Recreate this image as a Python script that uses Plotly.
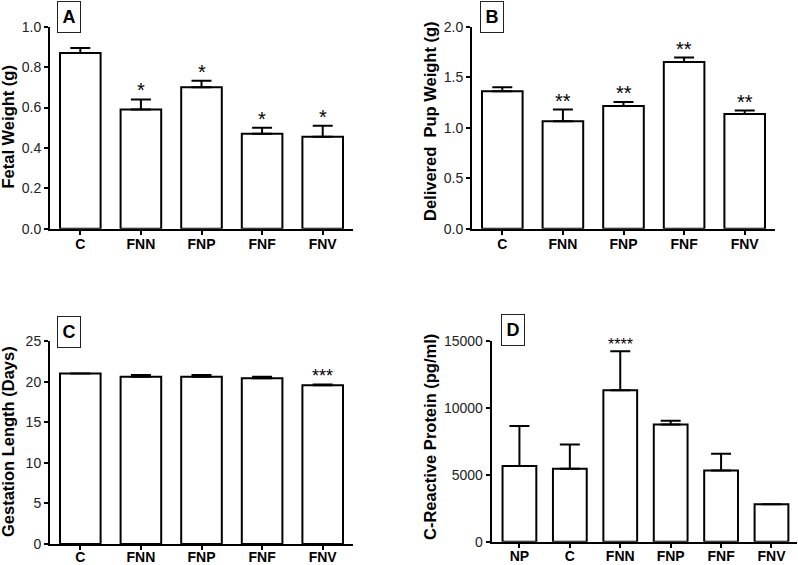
import plotly.graph_objects as go

# ---- data ----
groups_abc = ["C", "FNN", "FNP", "FNF", "FNV"]
fetal_weight = [0.87, 0.59, 0.70, 0.47, 0.455]
fetal_weight_err = [0.025, 0.05, 0.033, 0.03, 0.055]
fetal_stars = ["", "*", "*", "*", "*"]

pup_weight = [1.36, 1.065, 1.215, 1.65, 1.135]
pup_weight_err = [0.04, 0.115, 0.04, 0.045, 0.035]
pup_stars = ["", "**", "**", "**", "**"]

gestation_days = [21.0, 20.6, 20.6, 20.4, 19.55]
gestation_err = [0.0, 0.22, 0.22, 0.2, 0.1]
gestation_stars = ["", "", "", "", "***"]

groups_d = ["NP", "C", "FNN", "FNP", "FNF", "FNV"]
crp_values = [5650, 5450, 11300, 8750, 5320, 2790]
crp_err = [2980, 1810, 2910, 270, 1240, 0]
crp_stars = ["", "", "****", "", "", ""]

W, H = 798, 565
FONT = "Liberation Sans, Arial, sans-serif"


def fx(p):
    return p / W


def fy(p):
    return 1 - p / H


panels = [
    dict(cats=groups_abc, vals=fetal_weight, errs=fetal_weight_err, stars=fetal_stars,
         title="Fetal Weight (g)", label="A", xpx=(50, 353), ypx=(228.7, 26.7),
         yrange=[0, 1.0], dtick=0.2, fmt=".1f", xrange=[-0.5, 4.5],
         title_pos=(7.5, 127), label_pos=(69, 17), star_size=20, standoff=-3),
    dict(cats=groups_abc, vals=pup_weight, errs=pup_weight_err, stars=pup_stars,
         title="Delivered  Pup Weight (g)", label="B", xpx=(472, 775), ypx=(228.7, 26.7),
         yrange=[0, 2.0], dtick=0.5, fmt=".1f", xrange=[-0.5, 4.5],
         title_pos=(430, 121), label_pos=(491.5, 17), star_size=20, standoff=-3),
    dict(cats=groups_abc, vals=gestation_days, errs=gestation_err, stars=gestation_stars,
         title="Gestation Length (Days)", label="C", xpx=(50, 353), ypx=(544, 341),
         yrange=[0, 25], dtick=5, fmt="d", xrange=[-0.5, 4.5],
         title_pos=(8, 442), label_pos=(69, 332), star_size=18, standoff=-5),
    dict(cats=groups_d, vals=crp_values, errs=crp_err, stars=crp_stars,
         title="C-Reactive Protein (pg/ml)", label="D", xpx=(491.7, 796.7), ypx=(541.7, 340.7),
         yrange=[0, 15000], dtick=5000, fmt="d", xrange=[-0.55, 5.5],
         title_pos=(430, 437), label_pos=(513, 330), star_size=16, standoff=-4),
]

fig = go.Figure()
annotations = []
layout = {}

for i, p in enumerate(panels, start=1):
    sfx = "" if i == 1 else str(i)
    xa, ya = "x" + sfx, "y" + sfx
    fig.add_trace(go.Bar(
        x=p["cats"], y=p["vals"], xaxis=xa, yaxis=ya, width=0.67,
        marker=dict(color="white", line=dict(color="black", width=2)),
        error_y=dict(type="data", symmetric=False, array=p["errs"],
                     arrayminus=[0] * len(p["errs"]), color="black", thickness=2, width=10),
        showlegend=False, hoverinfo="x+y",
    ))
    layout["xaxis" + sfx] = dict(
        domain=[fx(p["xpx"][0]), fx(p["xpx"][1])], anchor=ya, type="category",
        range=p["xrange"], showline=True, linecolor="black", linewidth=2,
        ticks="outside", ticklen=4, tickwidth=2, tickcolor="black",
        ticklabelstandoff=p["standoff"],
        tickfont=dict(family=FONT, size=14, color="black", weight="bold"),
        showgrid=False, zeroline=False, fixedrange=True, automargin=False,
    )
    layout["yaxis" + sfx] = dict(
        domain=[fy(p["ypx"][0]), fy(p["ypx"][1])], anchor=xa,
        range=p["yrange"], dtick=p["dtick"], tick0=0, tickformat=p["fmt"],
        showline=True, linecolor="black", linewidth=2,
        ticks="outside", ticklen=4, tickwidth=2, tickcolor="black",
        tickfont=dict(family=FONT, size=14, color="#222"),
        showgrid=False, zeroline=False, fixedrange=True, automargin=False,
    )
    # significance stars
    for c, v, e, s in zip(p["cats"], p["vals"], p["errs"], p["stars"]):
        if s:
            annotations.append(dict(
                x=c, y=v + e, xref=xa, yref=ya, text=s, showarrow=False,
                yanchor="bottom", yshift=-4,
                font=dict(family=FONT, size=p["star_size"], color="black")))
    # y-axis title
    annotations.append(dict(
        x=fx(p["title_pos"][0]), y=fy(p["title_pos"][1]), xref="paper", yref="paper",
        text=p["title"], textangle=-90, showarrow=False, xanchor="center", yanchor="middle",
        font=dict(family=FONT, size=16.5, color="black", weight="bold")))
    # panel label box
    annotations.append(dict(
        x=fx(p["label_pos"][0]), y=fy(p["label_pos"][1]), xref="paper", yref="paper",
        text=p["label"], showarrow=False, xanchor="center", yanchor="middle",
        width=22, height=30, borderpad=0, bordercolor="#222", borderwidth=1,
        bgcolor="white", font=dict(family=FONT, size=18, color="black", weight="bold")))

fig.update_layout(
    width=W, height=H, autosize=False,
    margin=dict(l=0, r=0, t=0, b=0, autoexpand=False),
    paper_bgcolor="white", plot_bgcolor="white",
    annotations=annotations, bargap=0.33,
    **layout,
)

fig.write_html("out.html", config={"displayModeBar": False},
               post_script="document.body.style.margin='0';")
